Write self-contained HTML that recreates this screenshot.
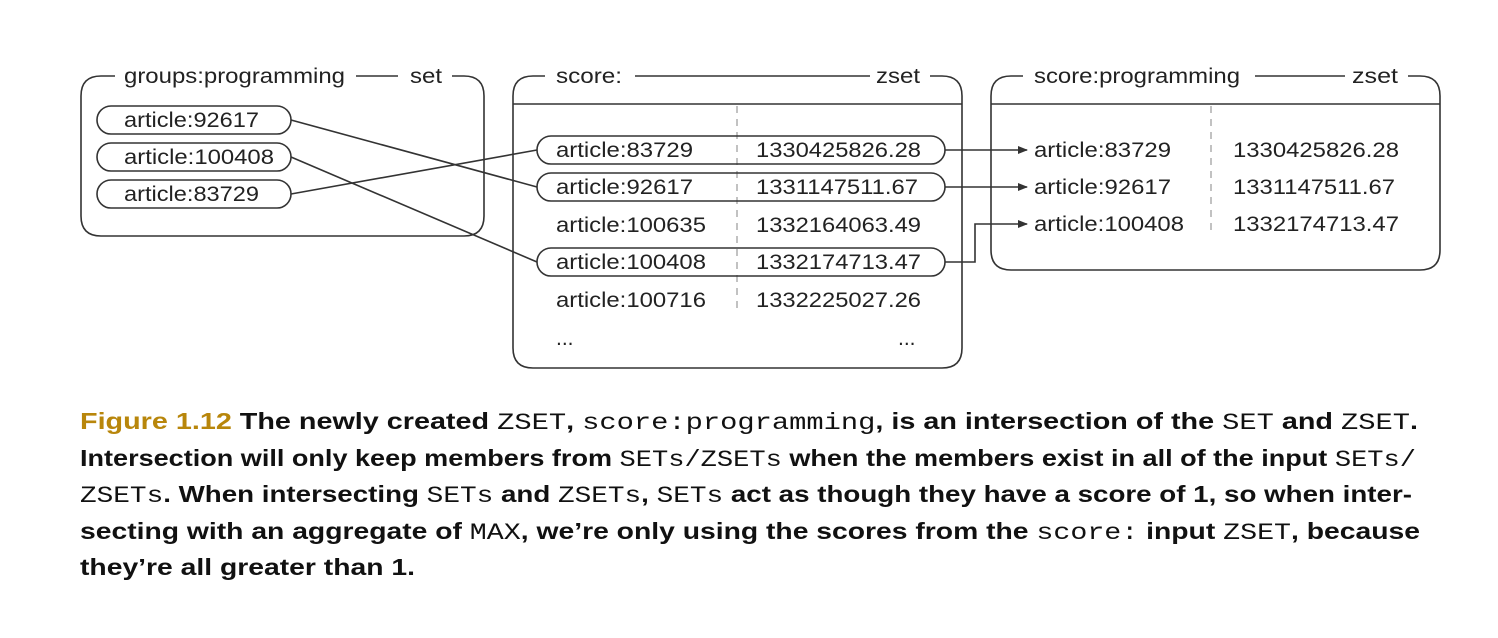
<!DOCTYPE html>
<html><head><meta charset="utf-8"><style>
html,body{margin:0;padding:0;background:#fff;}
svg{display:block;}
.t{font-family:"Liberation Sans",Arial,sans-serif;font-size:21px;fill:#222;}
.c{font-family:"Liberation Sans Narrow","Liberation Sans",sans-serif;font-weight:bold;font-size:23px;fill:#111;}
.m{font-family:"Liberation Mono",monospace;font-weight:normal;}
</style></head><body>
<svg width="1498" height="638" viewBox="0 0 1498 638" xmlns="http://www.w3.org/2000/svg">
<defs><marker id="a" markerWidth="10" markerHeight="8" refX="9" refY="4" orient="auto" markerUnits="userSpaceOnUse"><path d="M0,0 L10,4 L0,8 z" fill="#333"/></marker></defs>
<g fill="none" stroke="#333" stroke-width="1.6">
<path d="M115,76 H101 Q81,76 81,96 V216 Q81,236 101,236 H464 Q484,236 484,216 V96 Q484,76 464,76 H452"/>
<line x1="356" y1="76" x2="398" y2="76"/>
<rect x="97" y="106" width="194" height="28" rx="14"/>
<rect x="97" y="143" width="194" height="28" rx="14"/>
<rect x="97" y="180" width="194" height="28" rx="14"/>
<path d="M545,76 H533 Q513,76 513,96 V348 Q513,368 533,368 H942 Q962,368 962,348 V96 Q962,76 942,76 H930"/>
<line x1="635" y1="76" x2="870" y2="76"/>
<line x1="513" y1="104" x2="962" y2="104"/>
<line x1="737" y1="106" x2="737" y2="310" stroke="#999" stroke-width="1.2" stroke-dasharray="7,6"/>
<rect x="537" y="136" width="408" height="28" rx="14"/>
<rect x="537" y="173" width="408" height="28" rx="14"/>
<rect x="537" y="248" width="408" height="28" rx="14"/>
<path d="M1023,76 H1011 Q991,76 991,96 V250 Q991,270 1011,270 H1420 Q1440,270 1440,250 V96 Q1440,76 1420,76 H1408"/>
<line x1="1255" y1="76" x2="1345" y2="76"/>
<line x1="991" y1="104" x2="1440" y2="104"/>
<line x1="1211" y1="106" x2="1211" y2="232" stroke="#999" stroke-width="1.2" stroke-dasharray="7,6"/>
<line x1="291" y1="120" x2="537" y2="187"/>
<line x1="291" y1="157" x2="537" y2="262"/>
<line x1="291" y1="194" x2="537" y2="150"/>
<line x1="945" y1="150" x2="1027" y2="150" marker-end="url(#a)"/>
<line x1="945" y1="187" x2="1027" y2="187" marker-end="url(#a)"/>
<polyline points="945,262 975,262 975,224 1027,224" marker-end="url(#a)"/>
</g>
<g class="t" lengthAdjust="spacingAndGlyphs">
<text x="124" y="83" textLength="221" lengthAdjust="spacingAndGlyphs">groups:programming</text><text x="410" y="83" textLength="32" lengthAdjust="spacingAndGlyphs">set</text>
<text x="124" y="127" textLength="135" lengthAdjust="spacingAndGlyphs">article:92617</text>
<text x="124" y="164" textLength="150" lengthAdjust="spacingAndGlyphs">article:100408</text>
<text x="124" y="201" textLength="135" lengthAdjust="spacingAndGlyphs">article:83729</text>
<text x="556" y="83" textLength="66" lengthAdjust="spacingAndGlyphs">score:</text><text x="876" y="83" textLength="44" lengthAdjust="spacingAndGlyphs">zset</text>
<text x="556" y="157" textLength="137" lengthAdjust="spacingAndGlyphs">article:83729</text><text x="756" y="157" textLength="165" lengthAdjust="spacingAndGlyphs">1330425826.28</text>
<text x="556" y="194" textLength="137" lengthAdjust="spacingAndGlyphs">article:92617</text><text x="756" y="194" textLength="162" lengthAdjust="spacingAndGlyphs">1331147511.67</text>
<text x="556" y="232" textLength="150" lengthAdjust="spacingAndGlyphs">article:100635</text><text x="756" y="232" textLength="165" lengthAdjust="spacingAndGlyphs">1332164063.49</text>
<text x="556" y="269" textLength="150" lengthAdjust="spacingAndGlyphs">article:100408</text><text x="756" y="269" textLength="165" lengthAdjust="spacingAndGlyphs">1332174713.47</text>
<text x="556" y="307" textLength="150" lengthAdjust="spacingAndGlyphs">article:100716</text><text x="756" y="307" textLength="165" lengthAdjust="spacingAndGlyphs">1332225027.26</text>
<text x="556" y="345">...</text><text x="898" y="345">...</text>
<text x="1034" y="83" textLength="206" lengthAdjust="spacingAndGlyphs">score:programming</text><text x="1352" y="83" textLength="46" lengthAdjust="spacingAndGlyphs">zset</text>
<text x="1034" y="157" textLength="137" lengthAdjust="spacingAndGlyphs">article:83729</text><text x="1233" y="157" textLength="166" lengthAdjust="spacingAndGlyphs">1330425826.28</text>
<text x="1034" y="194" textLength="137" lengthAdjust="spacingAndGlyphs">article:92617</text><text x="1233" y="194" textLength="162" lengthAdjust="spacingAndGlyphs">1331147511.67</text>
<text x="1034" y="231" textLength="150" lengthAdjust="spacingAndGlyphs">article:100408</text><text x="1233" y="231" textLength="166" lengthAdjust="spacingAndGlyphs">1332174713.47</text>
</g>
<g class="c">
<text x="80" y="429" textLength="1338" lengthAdjust="spacingAndGlyphs"><tspan fill="#b8860b">Figure 1.12</tspan>    The newly created <tspan class="m">ZSET</tspan>, <tspan class="m">score:programming</tspan>, is an intersection of the <tspan class="m">SET</tspan> and <tspan class="m">ZSET</tspan>.</text>
<text x="80" y="466" textLength="1336" lengthAdjust="spacingAndGlyphs">Intersection will only keep members from <tspan class="m">SETs/ZSETs</tspan> when the members exist in all of the input <tspan class="m">SETs/</tspan></text>
<text x="80" y="502" textLength="1332" lengthAdjust="spacingAndGlyphs"><tspan class="m">ZSETs</tspan>. When intersecting <tspan class="m">SETs</tspan> and <tspan class="m">ZSETs</tspan>, <tspan class="m">SETs</tspan> act as though they have a score of 1, so when inter-</text>
<text x="80" y="539" textLength="1340" lengthAdjust="spacingAndGlyphs">secting with an aggregate of <tspan class="m">MAX</tspan>, we’re only using the scores from the <tspan class="m">score:</tspan> input <tspan class="m">ZSET</tspan>, because</text>
<text x="80" y="575" textLength="335" lengthAdjust="spacingAndGlyphs">they’re all greater than 1.</text>
</g>
</svg>
</body></html>
